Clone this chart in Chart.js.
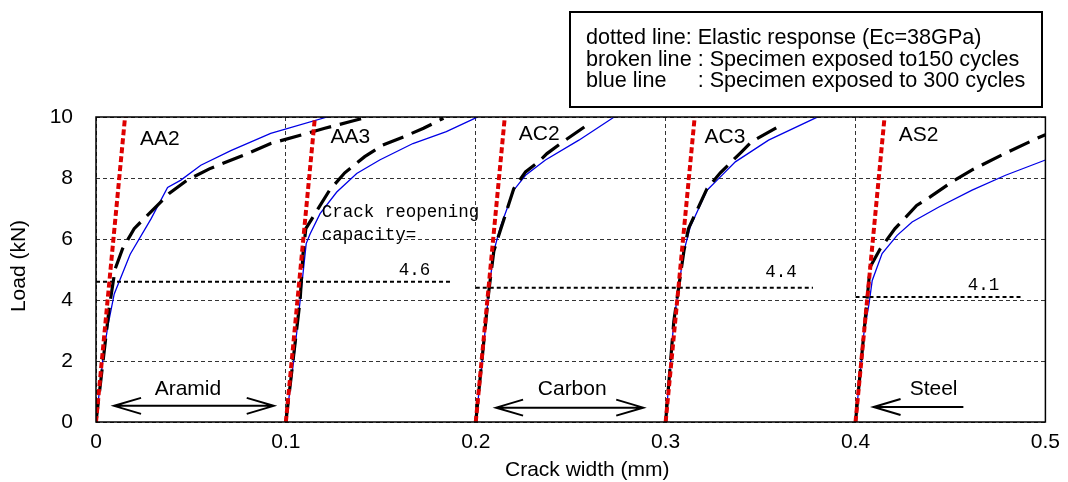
<!doctype html>
<html lang="en">
  <head>
    <meta charset="UTF-8" />
    <title>Crack width vs load</title>
    <script src="https://cdn.jsdelivr.net/npm/chart.js"></script>
    <style>
      body { margin: 0; background: #fff; }
    </style>
  </head>
  <body>
    <canvas id="crackChart" width="1068" height="482"></canvas>

    <script>
      // specimens, each plotted from its own 0.1 mm offset
      const specimens = ["AA2", "AA3", "AC2", "AC3", "AS2"];
      const offsets = [0, 0.1, 0.2, 0.3, 0.4];

      // blue line: exposed to 300 cycles (crack width mm, load kN)
      const aa2_300_x = [0, 0.0035, 0.0061, 0.0096, 0.018, 0.0289, 0.0377, 0.0447, 0.0552, 0.071, 0.092, 0.1218];
      const aa2_300_y = [0, 2.0, 3.1, 4.2, 5.5, 6.65, 7.69, 7.93, 8.42, 8.9, 9.46, 10.0];
      const aa3_300_x = [0.1, 0.1041, 0.1075, 0.1107, 0.1128, 0.118, 0.1268, 0.1373, 0.1494, 0.1669, 0.1845, 0.2003];
      const aa3_300_y = [0, 2.0, 3.98, 5.85, 6.17, 6.83, 7.54, 8.15, 8.59, 9.13, 9.52, 9.98];
      const ac2_300_x = [0.2, 0.2034, 0.2069, 0.2095, 0.213, 0.22, 0.2262, 0.2367, 0.2543, 0.2727];
      const ac2_300_y = [0, 2.0, 4.3, 5.6, 6.4, 7.6, 8.09, 8.59, 9.24, 9.99];
      const ac3_300_x = [0.3, 0.3043, 0.3096, 0.313, 0.3218, 0.3279, 0.3367, 0.3542, 0.3796];
      const ac3_300_y = [0, 3.3, 5.6, 6.4, 7.6, 7.98, 8.53, 9.24, 9.99];
      const as2_300_x = [0.4, 0.4044, 0.4071, 0.4088, 0.414, 0.4219, 0.4298, 0.4439, 0.4614, 0.479, 0.5];
      const as2_300_y = [0, 2.9, 3.87, 4.64, 5.52, 6.12, 6.56, 7.05, 7.6, 8.09, 8.59];

      // broken line: exposed to 150 cycles
      const aa2_150_x = [0, 0.007, 0.0101, 0.014, 0.0201, 0.0385, 0.048, 0.0597, 0.0797, 0.092, 0.1205, 0.1341, 0.143];
      const aa2_150_y = [0, 3.76, 5.02, 5.68, 6.34, 7.49, 7.93, 8.3, 8.8, 9.13, 9.63, 9.85, 10.0];
      const aa3_150_x = [0.1, 0.1075, 0.109, 0.1105, 0.123, 0.131, 0.1415, 0.151, 0.162, 0.1725, 0.183];
      const aa3_150_y = [0, 4.0, 5.5, 6.34, 7.6, 8.17, 8.7, 9.08, 9.35, 9.63, 9.96];
      const ac2_150_x = [0.2, 0.2069, 0.2095, 0.2115, 0.22, 0.2262, 0.233, 0.2375, 0.2471, 0.2578];
      const ac2_150_y = [0, 4.3, 5.6, 6.0, 7.65, 8.2, 8.53, 8.8, 9.24, 9.7];
      const ac3_150_x = [0.3, 0.3043, 0.3096, 0.312, 0.3218, 0.3288, 0.34, 0.3453, 0.3593];
      const ac3_150_y = [0, 3.3, 5.6, 6.34, 7.65, 8.17, 8.86, 9.19, 9.68];
      const as2_150_x = [0.4, 0.4077, 0.413, 0.4208, 0.4322, 0.4393, 0.4507, 0.4612, 0.4788, 0.4955, 0.5];
      const as2_150_y = [0, 5.08, 5.68, 6.34, 7.1, 7.38, 7.87, 8.26, 8.81, 9.3, 9.42];

      // dotted line: elastic response (Ec=38GPa), from 0 kN to 10 kN
      const elasticTopX = [0.0153, 0.1153, 0.2153, 0.3153, 0.4153];
      const elasticLoad = [0, 10];

      // crack reopening capacity lines
      const capLoad = [4.6, 4.4, 4.1];
      const capFrom = [0, 0.2, 0.4];
      const capTo = [0.188, 0.3776, 0.4874];
      const capLabelX = [0.1677, 0.3607, 0.4674];
      const capLabelY = [4.97, 4.9, 4.47];

      // text positions in data units
      const nameX = [0.0336, 0.134, 0.2334, 0.3312, 0.4332];
      const nameY = [9.28, 9.34, 9.44, 9.34, 9.41];
      const fibres = ["Aramid", "Carbon", "Steel"];
      const fibreX = [0.0484, 0.2508, 0.4411];
      const fibreY = [1.09, 1.09, 1.09];
      const arrowFrom = [0.0095, 0.2107, 0.4095];
      const arrowTo = [0.0936, 0.2882, 0.4568];
      const arrowY = [0.53, 0.47, 0.49];
      const arrowBoth = [true, true, false];

      const xTicks = [0, 0.1, 0.2, 0.3, 0.4, 0.5];
      const yTicks = [0, 2, 4, 6, 8, 10];

      const legendLines = [
        ["dotted line", ": Elastic response (Ec=38GPa)"],
        ["broken line ", ": Specimen exposed to150 cycles"],
        ["blue line", ": Specimen exposed to 300 cycles"],
      ];

      const FONT = '"Liberation Sans", Arial, sans-serif';
      const MONO = '"Liberation Mono", "DejaVu Sans Mono", monospace';

      const pts = (xs, ys) => xs.map((v, i) => ({ x: v, y: ys[i] }));

      const blue = [
        pts(aa2_300_x, aa2_300_y),
        pts(aa3_300_x, aa3_300_y),
        pts(ac2_300_x, ac2_300_y),
        pts(ac3_300_x, ac3_300_y),
        pts(as2_300_x, as2_300_y),
      ];
      const broken = [
        pts(aa2_150_x, aa2_150_y),
        pts(aa3_150_x, aa3_150_y),
        pts(ac2_150_x, ac2_150_y),
        pts(ac3_150_x, ac3_150_y),
        pts(as2_150_x, as2_150_y),
      ];

      const datasets = [];
      specimens.forEach((s, i) => {
        datasets.push({
          label: s + " 300 cycles",
          data: blue[i],
          borderColor: "rgb(0, 0, 230)",
          borderWidth: 1.3,
          order: 4,
        });
        datasets.push({
          label: s + " 150 cycles",
          data: broken[i],
          borderColor: "#000",
          borderWidth: 3.2,
          borderDash: [22, 9],
          order: 3,
        });
        datasets.push({
          label: s + " elastic",
          data: pts([offsets[i], elasticTopX[i]], elasticLoad),
          borderColor: "rgb(222, 0, 0)",
          borderWidth: 4,
          borderDash: [6, 3],
          order: 1,
        });
      });
      capLoad.forEach((c, i) => {
        datasets.push({
          label: "capacity " + c,
          data: pts([capFrom[i], capTo[i]], [c, c]),
          borderColor: "#000",
          borderWidth: 2,
          borderDash: [4, 3],
          order: 2,
        });
      });

      // frame, texts, arrows and the legend box
      const annotations = {
        id: "annotations",
        afterDatasetsDraw(chart) {
          const { ctx, chartArea: a } = chart;
          const x = chart.scales.x;
          const y = chart.scales.y;
          ctx.save();
          ctx.setLineDash([]);
          ctx.strokeStyle = "#000";
          ctx.lineWidth = 1.5;
          ctx.strokeRect(a.left, a.top, a.right - a.left, a.bottom - a.top);

          ctx.fillStyle = "#000";
          ctx.textAlign = "center";
          ctx.textBaseline = "middle";
          ctx.font = "21px " + FONT;
          specimens.forEach((s, i) => {
            ctx.fillText(s, x.getPixelForValue(nameX[i]), y.getPixelForValue(nameY[i]));
          });
          fibres.forEach((f, i) => {
            ctx.fillText(f, x.getPixelForValue(fibreX[i]), y.getPixelForValue(fibreY[i]));
          });

          // arrows
          ctx.lineWidth = 2;
          fibres.forEach((f, i) => {
            const x0 = x.getPixelForValue(arrowFrom[i]);
            const x1 = x.getPixelForValue(arrowTo[i]);
            const yy = y.getPixelForValue(arrowY[i]);
            ctx.beginPath();
            ctx.moveTo(x0, yy);
            ctx.lineTo(x1, yy);
            ctx.moveTo(x0 + 27, yy - 8);
            ctx.lineTo(x0, yy);
            ctx.lineTo(x0 + 27, yy + 8);
            if (arrowBoth[i]) {
              ctx.moveTo(x1 - 27, yy - 8);
              ctx.lineTo(x1, yy);
              ctx.lineTo(x1 - 27, yy + 8);
            }
            ctx.stroke();
          });

          // crack reopening capacity labels
          ctx.font = "17.5px " + MONO;
          capLoad.forEach((c, i) => {
            ctx.fillText(c.toFixed(1), x.getPixelForValue(capLabelX[i]), y.getPixelForValue(capLabelY[i]));
          });
          ctx.textAlign = "left";
          ctx.fillText("Crack reopening", x.getPixelForValue(0.1189), y.getPixelForValue(6.88));
          ctx.fillText("capacity=", x.getPixelForValue(0.1189), y.getPixelForValue(6.12));
          ctx.restore();
        },
        afterDraw(chart) {
          const { ctx } = chart;
          ctx.save();
          ctx.fillStyle = "#000";
          ctx.font = "21px " + FONT;
          ctx.textAlign = "center";
          ctx.textBaseline = "middle";
          ctx.fillText("Crack width (mm)", chart.scales.x.getPixelForValue(0.2587), 470);
          ctx.translate(19, 266);
          ctx.rotate(-Math.PI / 2);
          ctx.fillText("Load (kN)", 0, 0);
          ctx.restore();

          // legend box
          ctx.save();
          ctx.strokeStyle = "#000";
          ctx.lineWidth = 2;
          ctx.strokeRect(570, 12, 472, 95);
          ctx.fillStyle = "#000";
          ctx.font = "21.6px " + FONT;
          ctx.textAlign = "left";
          ctx.textBaseline = "middle";
          const colonX = 586 + ctx.measureText(legendLines[1][0]).width;
          legendLines.forEach((l, i) => {
            const ly = 38.5 + i * 21.5;
            ctx.fillText(l[0], 586, ly);
            const cx = i === 0 ? 586 + ctx.measureText(l[0]).width : colonX;
            ctx.fillText(l[1], cx, ly);
          });
          ctx.restore();
        },
      };

      new Chart(document.getElementById("crackChart"), {
        type: "scatter",
        data: { datasets: datasets },
        options: {
          responsive: false,
          animation: false,
          devicePixelRatio: 1,
          showLine: true,
          elements: {
            point: { radius: 0, hoverRadius: 0 },
            line: { tension: 0, fill: false, borderCapStyle: "butt" },
          },
          layout: { padding: { top: 117, right: 21, left: 0, bottom: 0 } },
          plugins: {
            legend: { display: false },
            tooltip: { enabled: false },
          },
          scales: {
            x: {
              type: "linear",
              min: 0,
              max: 0.5,
              afterFit: (s) => { s.height = 60; },
              afterBuildTicks: (s) => { s.ticks = xTicks.map((v) => ({ value: v })); },
              ticks: {
                color: "#000",
                font: { family: FONT, size: 21 },
                padding: 8,
                maxRotation: 0,
                callback: (v) => String(+v.toFixed(1)),
              },
              grid: { color: "#333", lineWidth: 1, drawTicks: false },
              border: { display: false, dash: [4, 3] },
            },
            y: {
              type: "linear",
              min: 0,
              max: 10,
              afterFit: (s) => { s.width = 96; },
              afterBuildTicks: (s) => { s.ticks = yTicks.map((v) => ({ value: v })); },
              ticks: {
                color: "#000",
                font: { family: FONT, size: 21 },
                padding: 23,
              },
              grid: { color: "#333", lineWidth: 1, drawTicks: false },
              border: { display: false, dash: [4, 3] },
            },
          },
        },
        plugins: [annotations],
      });
    </script>
  </body>
</html>
